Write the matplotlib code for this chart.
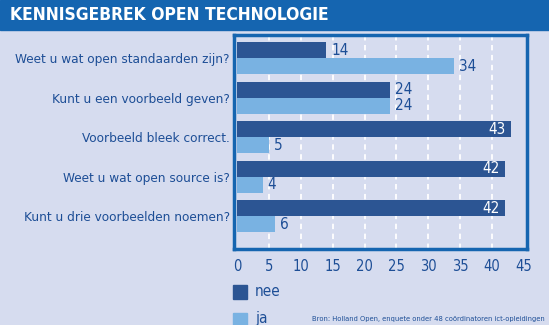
import matplotlib
matplotlib.use("Agg")
import matplotlib.pyplot as plt
from matplotlib.patches import Rectangle

# data
QUESTIONS = ["Weet u wat open standaarden zijn?", "Kunt u een voorbeeld geven?",
             "Voorbeeld bleek correct.", "Weet u wat open source is?",
             "Kunt u drie voorbeelden noemen?"]
NEE = [14, 24, 43, 42, 42]
JA = [34, 24, 5, 4, 6]
XTICKS = [0, 5, 10, 15, 20, 25, 30, 35, 40, 45]
TITLE = "KENNISGEBREK OPEN TECHNOLOGIE"
SOURCE = "Bron: Holland Open, enquete onder 48 coördinatoren ict-opleidingen"

BG = "#d6dcef"
BAND = "#1565b0"
DARK = "#2c5593"
LIGHT = "#79b2e2"
TXT = "#1d4e96"
plt.rcParams["font.family"] = ["DejaVu Sans"]
plt.rcParams["font.stretch"] = "condensed"

fig = plt.figure(figsize=(5.49, 3.25), dpi=100, facecolor=BG)

# title band
fig.patches.append(Rectangle((0, 1 - 30 / 325), 1, 30 / 325, transform=fig.transFigure,
                             color=BAND, zorder=0))
fig.text(10 / 549, 1 - 15 / 325, TITLE, color="white", fontsize=12.5, fontweight="bold",
         va="center", ha="left")

ax = fig.add_axes([234 / 549, 1 - 249 / 325, 293 / 549, 214 / 325])
ax.set_facecolor(BG)
h = 0.41
ys = range(len(QUESTIONS))
ax.barh([y - h / 2 for y in ys], NEE, height=h, color=DARK, zorder=2)
ax.barh([y + h / 2 for y in ys], JA, height=h, color=LIGHT, zorder=2)

for y, v in zip(ys, NEE):
    if v > 38:
        ax.text(v - 0.8, y - h / 2, str(v), color="white", ha="right", va="center", fontsize=11, zorder=3)
    else:
        ax.text(v + 0.8, y - h / 2, str(v), color=TXT, ha="left", va="center", fontsize=11, zorder=3)
for y, v in zip(ys, JA):
    ax.text(v + 0.8, y + h / 2, str(v), color=TXT, ha="left", va="center", fontsize=11, zorder=3)

for x in XTICKS[1:-1]:
    ax.axvline(x, color="white", lw=1.3, ls=(0, (3, 2.5)), zorder=1)

ax.set_xlim(-0.5, 45.5)
ax.set_ylim(4.83, -0.59)
ax.set_xticks(XTICKS)
ax.set_xticklabels([str(t) for t in XTICKS], color=TXT, fontsize=10.5)
ax.set_yticks(list(ys))
ax.set_yticklabels(QUESTIONS, color=TXT, fontsize=9.7)
ax.tick_params(axis="y", length=0, pad=3)
ax.tick_params(axis="x", length=0, pad=7)
for s in ax.spines.values():
    s.set_color(BAND)
    s.set_linewidth(2.5)

# legend
for i, (lab, col) in enumerate([("nee", DARK), ("ja", LIGHT)]):
    ytop = 285 + i * 28
    fig.patches.append(Rectangle((233 / 549, 1 - (ytop + 14) / 325), 14 / 549, 14 / 325,
                                 transform=fig.transFigure, color=col))
    fig.text(255 / 549, 1 - (ytop + 6) / 325, lab, color=TXT, fontsize=11, va="center")

fig.text(545 / 549, 1 - 319 / 325, SOURCE, color=TXT, fontsize=5.4, ha="right", va="center")

fig.savefig("out.png", dpi=100, facecolor=BG)
